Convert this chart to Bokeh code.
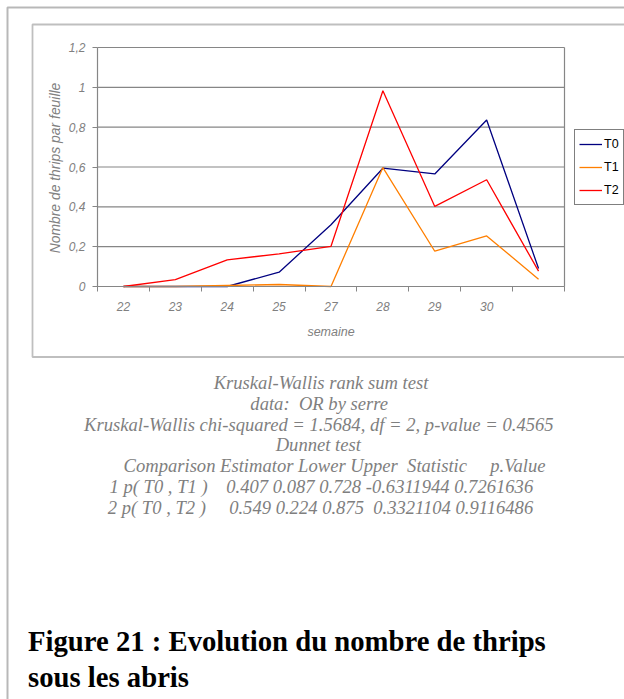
import numpy as np
from bokeh.plotting import figure
from bokeh.models import Range1d, FixedTicker, Label, BoxAnnotation, Legend, LegendItem
from bokeh.embed import file_html
from bokeh.resources import INLINE

# ---- data ----
weeks = ["22", "23", "24", "25", "27", "28", "29", "30", ""]
T0 = [0.0, 0.0, 0.0, 0.072, 0.31, 0.594, 0.565, 0.836, 0.09]
T1 = [0.0, 0.0, 0.005, 0.01, 0.0, 0.597, 0.177, 0.254, 0.037]
T2 = [0.0, 0.034, 0.134, 0.164, 0.202, 0.983, 0.402, 0.536, 0.077]
series_names = ["T0", "T1", "T2"]
series_colors = ["#000080", "#FF7F00", "#FF0000"]
y_ticks = [0.0, 0.2, 0.4, 0.6, 0.8, 1.0, 1.2]
y_tick_labels = ["0", "0,2", "0,4", "0,6", "0,8", "1", "1,2"]
y_title = "Nombre de thrips par feuille"
x_title = "semaine"
NB = "\u00a0"
stats_lines = [
    "Kruskal-Wallis rank sum test",
    "data:" + NB * 2 + "OR by serre",
    "Kruskal-Wallis chi-squared = 1.5684, df = 2, p-value = 0.4565",
    "Dunnet test",
    "Comparison Estimator Lower Upper" + NB * 2 + "Statistic" + NB * 5 + "p.Value",
    "1 p( T0 , T1 )" + NB * 4 + "0.407 0.087 0.728 -0.6311944 0.7261636",
    "2 p( T0 , T2 )" + NB * 5 + "0.549 0.224 0.875" + NB * 2 + "0.3321104 0.9116486",
]
title_lines = ["Figure 21 : Evolution du nombre de thrips", "sous les abris"]

# ---- layout constants (page px) ----
W, H = 624, 699
FL, FR, FT, FB = 97.0, 564.0, 47.0, 286.0   # chart plot area on the page
n = len(weeks)
YMAX = 1.2
kx = (FR - FL) / n
ky = (FB - FT) / YMAX
xs = -FL / kx
ys = -(H - FB) / ky

p = figure(width=W, height=H, output_backend="svg", toolbar_location=None,
           title=None,
           x_range=Range1d(xs, xs + W / kx), y_range=Range1d(ys, ys + H / ky),
           min_border=0)
p.background_fill_color = "white"
p.border_fill_color = "white"
p.outline_line_color = None

gray = "#808080"
axcol = "#868686"

# gridlines and plot-area border (data coordinates)
p.segment(x0=0, x1=n, y0=y_ticks, y1=y_ticks, line_color=axcol, line_width=1.2)
p.segment(x0=[n], x1=[n], y0=[0], y1=[YMAX], line_color=axcol, line_width=1.2)

x = np.arange(n) + 0.5
renderers = []
for vals, col in zip([T0, T1, T2], series_colors):
    r = p.line(x, vals, line_color=col, line_width=1.3)
    renderers.append(r)

# x axis
xa = p.xaxis[0]
xa.fixed_location = 0
xa.bounds = (0, n)
xa.ticker = FixedTicker(ticks=list(x), minor_ticks=list(range(n + 1)))
xa.major_label_overrides = {float(t): w for t, w in zip(x, weeks)}
xa.major_tick_line_color = None
xa.major_tick_out = 0
xa.major_tick_in = 0
xa.minor_tick_line_color = axcol
xa.minor_tick_out = 5
xa.minor_tick_in = 0
xa.axis_line_color = axcol
xa.axis_line_width = 1.2
xa.major_label_text_font = "Liberation Sans"
xa.major_label_text_font_style = "italic"
xa.major_label_text_font_size = "12px"
xa.major_label_text_color = gray
xa.major_label_standoff = 10
xa.axis_label = x_title
xa.axis_label_text_font = "Liberation Sans"
xa.axis_label_text_font_style = "italic"
xa.axis_label_text_font_size = "12.5px"
xa.axis_label_text_color = gray
xa.axis_label_standoff = 11

# y axis
ya = p.yaxis[0]
ya.fixed_location = 0
ya.bounds = (0, YMAX)
ya.ticker = FixedTicker(ticks=y_ticks, minor_ticks=[])
ya.major_label_overrides = {t: l for t, l in zip(y_ticks, y_tick_labels)}
ya.major_tick_line_color = axcol
ya.major_tick_out = 5
ya.major_tick_in = 0
ya.minor_tick_line_color = None
ya.axis_line_color = axcol
ya.axis_line_width = 1.2
ya.major_label_text_font = "Liberation Sans"
ya.major_label_text_font_style = "italic"
ya.major_label_text_font_size = "12px"
ya.major_label_text_color = gray
ya.major_label_standoff = 7

p.add_layout(Label(x=54.6, y=H - 167.5, x_units="screen", y_units="screen",
                   text=y_title, angle=np.pi / 2, text_align="center",
                   text_baseline="middle", text_font="Liberation Sans",
                   text_font_style="italic", text_font_size="13.9px",
                   text_color=gray))

p.xgrid.visible = False
p.ygrid.visible = False

# legend
items = [LegendItem(label=nm, renderers=[r]) for nm, r in zip(series_names, renderers)]
legend = Legend(items=items, location=(574, H - 205),
                border_line_color="black", border_line_width=1,
                background_fill_color="white", background_fill_alpha=1,
                padding=4, margin=0, spacing=3, glyph_height=20, glyph_width=23,
                label_standoff=2, label_width=12, label_height=12,
                label_text_font="Liberation Sans", label_text_font_size="12.5px",
                label_text_color="black")
p.add_layout(legend)

# boxes (canvas units)
outer = BoxAnnotation(left=7, right=W + 20, top=7, bottom=H + 20,
                      left_units="canvas", right_units="canvas",
                      top_units="canvas", bottom_units="canvas",
                      fill_alpha=0, line_color="#141414", line_width=2)
inner = BoxAnnotation(left=32, right=W + 20, top=24, bottom=356.5,
                      left_units="canvas", right_units="canvas",
                      top_units="canvas", bottom_units="canvas",
                      fill_alpha=0, line_color="#2a2a2a", line_width=1.8)
p.add_layout(outer)
p.add_layout(inner)

# statistics text: (x anchor, alignment, baseline)
stat_pos = [(320.5, "center", 381.7), (318.7, "center", 402.7),
            (318.3, "center", 423.5), (317.8, "center", 444.0),
            (545.0, "right", 465.0), (532.7, "right", 486.0),
            (532.7, "right", 507.0)]
for t, (ax, al, by) in zip(stats_lines, stat_pos):
    p.add_layout(Label(x=ax, y=H - by, x_units="screen", y_units="screen",
                       text=t, text_align=al, text_baseline="alphabetic",
                       text_font="Liberation Serif", text_font_style="italic",
                       text_font_size="18.6px", text_color="#7f7f7f"))

# figure caption
for t, by in zip(title_lines, [640.7, 676.0]):
    p.add_layout(Label(x=27.5, y=H - by, x_units="screen", y_units="screen",
                       text=t, text_align="left", text_baseline="alphabetic",
                       text_font="Liberation Serif", text_font_style="bold",
                       text_font_size="28.7px", text_color="black"))

open("out.html", "w").write(file_html(p, INLINE))
